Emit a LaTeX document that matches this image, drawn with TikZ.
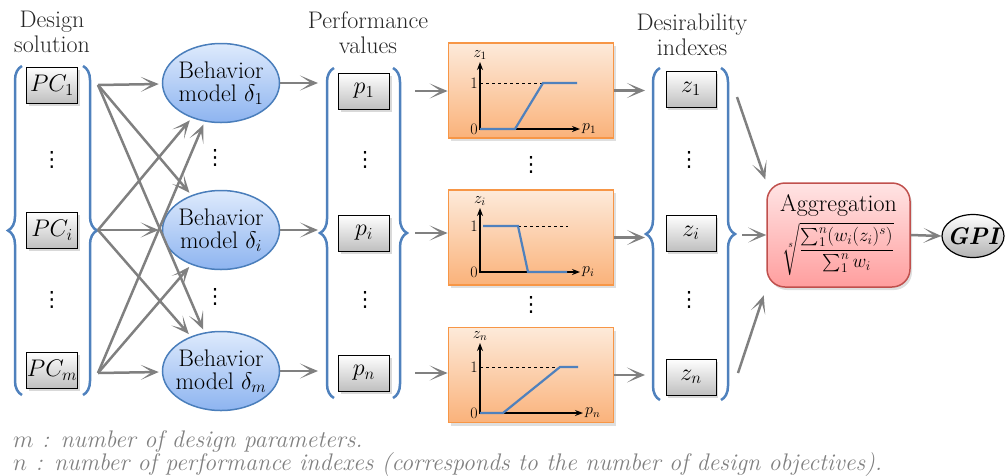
\RequirePackage{fix-cm}
\documentclass[tikz,border=0pt]{standalone}
\usepackage{exscale}
\usepackage{fontspec}
\newfontfamily\dotsfont{DejaVu Sans}
\usetikzlibrary{arrows.meta,shapes.geometric,decorations.pathreplacing,shadows,positioning}

\definecolor{braceblue}{RGB}{79,129,189}
\definecolor{flowgray}{RGB}{128,128,128}
\definecolor{modelline}{RGB}{74,126,187}
\definecolor{modeltop}{RGB}{222,234,252}
\definecolor{modelbot}{RGB}{141,180,240}
\definecolor{chartline}{RGB}{247,150,70}
\definecolor{charttop}{RGB}{253,234,218}
\definecolor{chartbot}{RGB}{250,178,122}
\definecolor{aggline}{RGB}{192,80,77}
\definecolor{aggtop}{RGB}{255,228,228}
\definecolor{aggbot}{RGB}{255,158,158}
\definecolor{curveblue}{RGB}{79,129,189}
\definecolor{notegray}{RGB}{128,128,128}

\tikzset{
  flow/.style={draw=flowgray, line width=2.5pt, -{Stealth[length=18pt,width=15pt,inset=11pt]}},
  bluebrace/.style={draw=braceblue, line width=2.5pt, decorate, decoration={brace, amplitude=14pt}},
  head/.style={align=center, text=black!85, font=\fontsize{24}{25}\selectfont},
  valbox/.style={draw=black, line width=0.8pt, top color=white, bottom color=black!25,
    minimum width=51pt, minimum height=36pt, inner sep=0pt,
    drop shadow={shadow xshift=2pt, shadow yshift=-3pt, opacity=0.3}},
  model/.style={ellipse, draw=modelline, line width=1.5pt, top color=modeltop, bottom color=modelbot,
    minimum width=117pt, minimum height=79pt, inner sep=0pt},
  modeltext/.style={align=center, font=\fontsize{24}{23}\selectfont},
  chart/.style={draw=chartline, line width=1.8pt, top color=charttop, bottom color=chartbot,
    minimum width=165pt, minimum height=95pt, inner sep=0pt,
    drop shadow={shadow xshift=2pt, shadow yshift=-3pt, opacity=0.25}},
  axis/.style={line width=1.3pt, {Stealth[length=8pt,width=6pt]}-{Stealth[length=8pt,width=6pt]}},
  curve/.style={draw=curveblue, line width=2.2pt},
  level/.style={dashed, line width=0.6pt},
  tick/.style={font=\fontsize{16}{17}\selectfont, inner sep=2pt},
  dots/.style={font=\fontsize{21}{21}\dotsfont, inner sep=0pt},
  aggbox/.style={rectangle, rounded corners=18pt, draw=aggline, line width=1.5pt, top color=aggtop,
    bottom color=aggbot, minimum width=143pt, minimum height=104pt, inner sep=2pt, align=center,
    drop shadow={shadow xshift=2pt, shadow yshift=-3pt, opacity=0.25}},
  gpinode/.style={ellipse, draw=black, line width=1.2pt, top color=white, bottom color=black!30,
    minimum width=62pt, minimum height=43pt, inner xsep=-7pt, inner ysep=0pt,
    font=\fontsize{24}{24}\selectfont\bfseries\itshape},
  note/.style={anchor=base west, inner sep=0pt, text=notegray, font=\fontsize{24}{23}\selectfont\itshape}
}

\begin{document}
\begin{tikzpicture}[x=1pt, y=-1pt, font=\fontsize{24}{25}\selectfont]
  \useasboundingbox (0,0) rectangle (1007,475);

  % Headings
  \node[head] (hdes) at (52,32) {Design\\solution};
  \node[head] (hperf) at (368,33) {Performance\\values};
  \node[head] (hdsr) at (692,35) {Desirability\\indexes};

  % Design solution
  \draw[bluebrace] (22,395) -- (22,66);
  \draw[bluebrace] (83,66) -- (83,395);
  \node[valbox] (pc1) at (52,85) {$PC_1$};
  \node[valbox] (pci) at (52,230) {$PC_i$};
  \node[valbox] (pcm) at (52,370) {$PC_m$};
  \node[dots] (pcd1) at (52,160) {⋮};
  \node[dots] (pcd2) at (52,300) {⋮};

  % Behavior models
  \node[model] (b1) at (221,83) {};
  \node[model] (bi) at (221,230) {};
  \node[model] (bm) at (221,371) {};
  \node[modeltext] (b1t) at (b1) {Behavior\\model $\delta_1$};
  \node[modeltext] (bit) at (bi) {Behavior\\model $\delta_i$};
  \node[modeltext] (bmt) at (bm) {Behavior\\model $\delta_m$};
  \node[dots] (bd1) at (215,158) {⋮};
  \node[dots] (bd2) at (215,297) {⋮};

  % Every design parameter feeds every model
  \coordinate (s1) at (98,85);
  \coordinate (si) at (98,230);
  \coordinate (sm) at (98,373);
  \draw[flow, shorten >=3pt] (s1) -- (b1);
  \draw[flow, shorten >=3pt] (s1) -- (bi);
  \draw[flow, shorten >=3pt] (s1) -- (bm);
  \draw[flow, shorten >=3pt] (si) -- (b1);
  \draw[flow, shorten >=3pt] (si) -- (bi);
  \draw[flow, shorten >=3pt] (si) -- (bm);
  \draw[flow, shorten >=3pt] (sm) -- (b1);
  \draw[flow, shorten >=3pt] (sm) -- (bi);
  \draw[flow, shorten >=3pt] (sm) -- (bm);

  % Performance values
  \draw[bluebrace] (334,398) -- (334,68);
  \draw[bluebrace] (393,68) -- (393,398);
  \node[valbox] (p1) at (364,91) {$p_1$};
  \node[valbox] (pi) at (364,233) {$p_i$};
  \node[valbox] (pn) at (364,373) {$p_n$};
  \node[dots] (pd1) at (365,160) {⋮};
  \node[dots] (pd2) at (365,300) {⋮};

  \coordinate (pin) at (318,0);
  \draw[flow] (b1.east) -- (b1.east -| pin);
  \draw[flow] (bi.east) -- (bi.east -| pin);
  \draw[flow] (bm.east) -- (bm.east -| pin);

  % Desirability functions
  \node[chart] (c1) at (531,90.5) {};
  \node[chart] (ci) at (531,237.5) {};
  \node[chart] (cn) at (531,375) {};
  \node[dots] (cd1) at (531,165) {⋮};
  \node[dots] (cd2) at (531,305) {⋮};

  \begin{scope}[shift={(c1.center)}]
    \draw[level] (-51,-7.5) -- (14,-7.5);
    \draw[axis] (-51,-28.5) -- (-51,38.5) -- (49,38.5);
    \draw[curve] (-51,38.5) -- (-16,38.5) -- (12,-7.5) -- (46,-7.5);
    \node[tick, above] (c1z) at (-51,-28.5) {$z_1$};
    \node[tick, right] (c1p) at (49,38.5) {$p_1$};
    \node[tick, left] (c1one) at (-51,-7.5) {1};
    \node[tick, left] (c1zero) at (-51,38.5) {0};
  \end{scope}

  \begin{scope}[shift={(ci.center)}]
    \draw[level] (-13,-11.5) -- (37,-11.5);
    \draw[axis] (-51,-29.5) -- (-51,34.5) -- (49,34.5);
    \draw[curve] (-48,-11.5) -- (-13,-11.5) -- (-3,34.5) -- (36,34.5);
    \node[tick, above] (ciz) at (-51,-29.5) {$z_i$};
    \node[tick, right] (cip) at (49,34.5) {$p_i$};
    \node[tick, left] (cione) at (-51,-11.5) {1};
    \node[tick, left] (cizero) at (-51,34.5) {0};
  \end{scope}

  \begin{scope}[shift={(cn.center)}]
    \draw[level] (-51,-8) -- (29,-8);
    \draw[axis] (-51,-32) -- (-51,38) -- (52,38);
    \draw[curve] (-51,38) -- (-28,38) -- (29,-8) -- (47,-8);
    \node[tick, above] (cnz) at (-51,-32) {$z_n$};
    \node[tick, right] (cnp) at (52,38) {$p_n$};
    \node[tick, left] (cnone) at (-51,-8) {1};
    \node[tick, left] (cnzero) at (-51,38) {0};
  \end{scope}

  \coordinate (pout) at (415,0);
  \draw[flow] (p1 -| pout) -- (p1 -| c1.west);
  \draw[flow] (pi -| pout) -- (pi -| ci.west);
  \draw[flow] (pn -| pout) -- (pn -| cn.west);

  % Desirability indexes
  \draw[bluebrace] (660,400) -- (660,68);
  \draw[bluebrace] (721,68) -- (721,400);
  \node[valbox, minimum width=50pt] (z1) at (691,89) {$z_1$};
  \node[valbox, minimum width=50pt] (zi) at (691,233) {$z_i$};
  \node[valbox, minimum width=50pt] (zn) at (691,377) {$z_n$};
  \node[dots] (zd1) at (689,160) {⋮};
  \node[dots] (zd2) at (689,300) {⋮};

  \coordinate (zin) at (645,0);
  \draw[flow] (c1.east) -- (c1.east -| zin);
  \draw[flow] (ci.east) -- (ci.east -| zin);
  \draw[flow] (cn.east) -- (cn.east -| zin);

  % Aggregation and GPI
  \node[aggbox] (agg) at (838.5,235) {Aggregation\\[5pt]
    {\fontsize{19}{19}\selectfont$\sqrt[s]{\displaystyle\frac{\sum_1^n(w_i(z_i)^s)}{\sum_1^n w_i}}$}};
  \node[gpinode] (gpi) at (973,236) {GPI};

  \coordinate (t1) at (737,97);
  \coordinate (t2) at (742,235);
  \coordinate (t3) at (738,373);
  \draw[flow, shorten >=3pt] (t1) -- (agg.north west);
  \draw[flow] (t2) -- (agg.west);
  \draw[flow, shorten >=8pt] (t3) -- (agg.south west);
  \draw[flow] (agg.east) -- (gpi.west);

  % Notes
  \node[note] (nm) at (13,447) {$m$ : number of design parameters.};
  \node[note] (nn) at (13,470) {$n$ : number of performance indexes (corresponds to the number of design objectives).};
\end{tikzpicture}
\end{document}
